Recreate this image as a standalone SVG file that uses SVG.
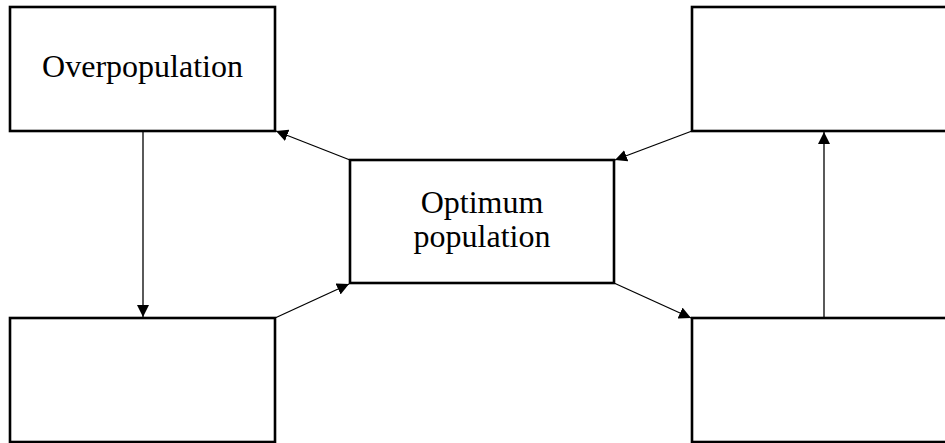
<svg xmlns="http://www.w3.org/2000/svg" width="945" height="443" viewBox="0 0 945 443">
<style>
.box{fill:#fff;stroke:#000;stroke-width:2.6}
.lbl{font-family:"Liberation Serif","Times New Roman",serif;font-size:32px;fill:#000;text-anchor:middle}
.con{stroke:#000;stroke-width:1.3;fill:none;marker-end:url(#ah)}
</style>
<defs>
<marker id="ah" viewBox="0 0 10 10" refX="10" refY="5" markerWidth="12" markerHeight="12" markerUnits="userSpaceOnUse" orient="auto">
<path d="M0,0 L10,5 L0,10 Z" fill="#000"/>
</marker>
</defs>
<rect width="945" height="443" fill="#fff"/>
<g id="connectors">
<line class="con" x1="143" y1="131" x2="143" y2="317"/>
<line class="con" x1="350" y1="160" x2="276" y2="131"/>
<line class="con" x1="275" y1="318" x2="349" y2="284"/>
<line class="con" x1="692" y1="131" x2="615" y2="160"/>
<line class="con" x1="614" y1="283" x2="691" y2="318"/>
<line class="con" x1="824" y1="318" x2="824" y2="132"/>
</g>
<g id="overpopulation">
<rect class="box" x="10" y="7" width="265" height="124"/>
<text class="lbl" x="142.5" y="77">Overpopulation</text>
</g>
<g id="bottom-left">
<rect class="box" x="10" y="318" width="265" height="124"/>
</g>
<g id="optimum">
<rect class="box" x="350" y="160" width="264" height="123"/>
<text class="lbl" x="482" y="213">Optimum</text>
<text class="lbl" x="482" y="247">population</text>
</g>
<g id="top-right">
<rect class="box" x="692" y="7" width="270" height="124"/>
</g>
<g id="bottom-right">
<rect class="box" x="692" y="318" width="270" height="124"/>
</g>
</svg>
